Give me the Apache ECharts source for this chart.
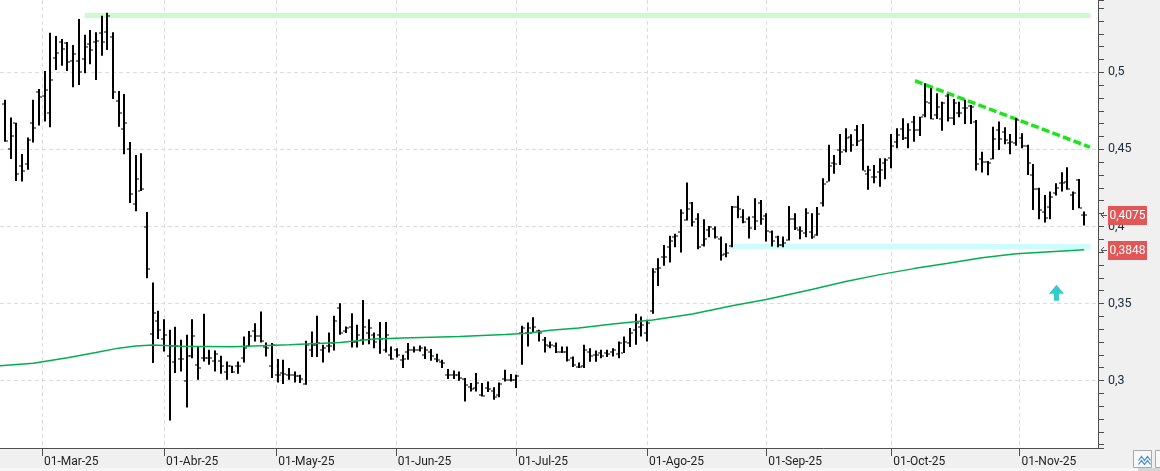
<!DOCTYPE html>
<html>
<head>
<meta charset="utf-8">
<script src="https://cdn.jsdelivr.net/npm/echarts@6.0.0/dist/echarts.min.js"></script>
<style>
  html, body { margin: 0; padding: 0; background: #f0f0f0; }
  #chart { width: 1160px; height: 471px; }
</style>
</head>
<body>
<div id="chart"></div>
<script>
// daily bars, one per trading day (20-Feb-25 .. 18-Nov-25), x = bar index
const open = [
  0.4795, 0.4503, 0.4669, 0.4394, 0.4404, 0.4669, 0.4870, 0.4845, 0.4734, 0.5091,
  0.5199, 0.5188, 0.5071, 0.5071, 0.5084, 0.5182, 0.5195, 0.5253, 0.5260, 0.5227,
  0.4814, 0.4630, 0.4501, 0.4144, 0.4230, 0.3999, 0.3301, 0.3387, 0.3271, 0.3156,
  0.3117, 0.3139, 0.2998, 0.3156, 0.3102, 0.3149, 0.3149, 0.3128, 0.3128, 0.3052,
  0.3091, 0.3091, 0.3145, 0.3225, 0.3318, 0.3290, 0.3217, 0.3095, 0.3037, 0.3048,
  0.3037, 0.3037, 0.3026, 0.2979, 0.3199, 0.3232, 0.3199, 0.3221, 0.3243, 0.3470,
  0.3318, 0.3350, 0.3253, 0.3264, 0.3308, 0.3297, 0.3297, 0.3199, 0.3167, 0.3199,
  0.3134, 0.3182, 0.3199, 0.3199, 0.3167, 0.3188, 0.3139, 0.3123, 0.3037, 0.3037,
  0.3037, 0.3009, 0.2957, 0.2951, 0.2907, 0.2951, 0.2933, 0.2907, 0.3009, 0.3005,
  0.3005, 0.3308, 0.3308, 0.3311, 0.3318, 0.3264, 0.3225, 0.3221, 0.3182, 0.3188,
  0.3145, 0.3087, 0.3091, 0.3188, 0.3167, 0.3178, 0.3178, 0.3188, 0.3173, 0.3178,
  0.3243, 0.3329, 0.3350, 0.3308, 0.3448, 0.3723, 0.3804, 0.3865, 0.3934, 0.3966,
  0.4042, 0.4151, 0.4047, 0.3880, 0.3977, 0.3982, 0.3917, 0.3822, 0.3874, 0.4129,
  0.4060, 0.4047, 0.4064, 0.4151, 0.4068, 0.3966, 0.3930, 0.3880, 0.3913, 0.4047,
  0.3977, 0.3960, 0.3966, 0.3945, 0.4151, 0.4291, 0.4410, 0.4496, 0.4496, 0.4579,
  0.4626, 0.4561, 0.4341, 0.4319, 0.4356, 0.4414, 0.4444, 0.4550, 0.4630, 0.4572,
  0.4678, 0.4626, 0.4723, 0.4799, 0.4723, 0.4695, 0.4846, 0.4702, 0.4734, 0.4767,
  0.4782, 0.4680, 0.4438, 0.4420, 0.4436, 0.4626, 0.4615, 0.4540, 0.4540, 0.4572,
  0.4522, 0.4334, 0.4241, 0.4096, 0.4129, 0.4215, 0.4280, 0.4291, 0.4204, 0.4302,
  0.4075
];
const high = [
  0.4821, 0.4706, 0.4673, 0.4470, 0.4576, 0.4821, 0.4892, 0.5009, 0.5257, 0.5236,
  0.5216, 0.5197, 0.5177, 0.5346, 0.5244, 0.5274, 0.5260, 0.5367, 0.5387, 0.5260,
  0.4879, 0.4859, 0.4548, 0.4464, 0.4475, 0.4094, 0.3636, 0.3452, 0.3398, 0.3329,
  0.3348, 0.3264, 0.3297, 0.3398, 0.3221, 0.3433, 0.3199, 0.3195, 0.3160, 0.3123,
  0.3095, 0.3123, 0.3285, 0.3322, 0.3372, 0.3448, 0.3247, 0.3243, 0.3139, 0.3134,
  0.3081, 0.3058, 0.3037, 0.3258, 0.3318, 0.3420, 0.3232, 0.3311, 0.3420, 0.3502,
  0.3350, 0.3437, 0.3361, 0.3523, 0.3398, 0.3311, 0.3379, 0.3379, 0.3221, 0.3210,
  0.3167, 0.3243, 0.3221, 0.3227, 0.3221, 0.3204, 0.3173, 0.3134, 0.3074, 0.3065,
  0.3058, 0.3016, 0.2983, 0.3048, 0.2983, 0.2994, 0.2957, 0.2987, 0.3069, 0.3042,
  0.3037, 0.3355, 0.3376, 0.3411, 0.3329, 0.3282, 0.3253, 0.3247, 0.3221, 0.3221,
  0.3156, 0.3117, 0.3232, 0.3210, 0.3195, 0.3199, 0.3199, 0.3210, 0.3253, 0.3286,
  0.3340, 0.3433, 0.3415, 0.3394, 0.3729, 0.3794, 0.3880, 0.3939, 0.3952, 0.4112,
  0.4284, 0.4159, 0.4086, 0.4047, 0.4003, 0.3999, 0.3934, 0.3891, 0.4133, 0.4198,
  0.4112, 0.4064, 0.4183, 0.4172, 0.4086, 0.3973, 0.3939, 0.3934, 0.4133, 0.4086,
  0.3999, 0.4118, 0.4086, 0.4125, 0.4313, 0.4529, 0.4464, 0.4600, 0.4637, 0.4598,
  0.4658, 0.4665, 0.4393, 0.4399, 0.4442, 0.4442, 0.4600, 0.4637, 0.4702, 0.4669,
  0.4717, 0.4712, 0.4929, 0.4896, 0.4864, 0.4809, 0.4859, 0.4827, 0.4809, 0.4821,
  0.4788, 0.4691, 0.4485, 0.4425, 0.4647, 0.4680, 0.4643, 0.4600, 0.4702, 0.4605,
  0.4529, 0.4405, 0.4250, 0.4204, 0.4226, 0.4280, 0.4352, 0.4384, 0.4226, 0.4308,
  0.4096
];
const low = [
  0.4550, 0.4438, 0.4295, 0.4291, 0.4367, 0.4544, 0.4654, 0.4680, 0.4643, 0.5015,
  0.5043, 0.5009, 0.4903, 0.4918, 0.4994, 0.5052, 0.4950, 0.5108, 0.5145, 0.4827,
  0.4647, 0.4468, 0.4151, 0.4099, 0.4230, 0.3664, 0.3113, 0.3269, 0.3188, 0.2741,
  0.3048, 0.3058, 0.2825, 0.3145, 0.3005, 0.3123, 0.3102, 0.3058, 0.3044, 0.3005,
  0.3048, 0.3044, 0.3117, 0.3221, 0.3253, 0.3247, 0.3156, 0.3016, 0.2987, 0.2977,
  0.3005, 0.2987, 0.2983, 0.2972, 0.3152, 0.3152, 0.3117, 0.3182, 0.3195, 0.3297,
  0.3308, 0.3214, 0.3214, 0.3232, 0.3236, 0.3210, 0.3173, 0.3182, 0.3134, 0.3149,
  0.3081, 0.3134, 0.3182, 0.3188, 0.3139, 0.3128, 0.3119, 0.3081, 0.3009, 0.3009,
  0.2998, 0.2864, 0.2929, 0.2929, 0.2896, 0.2925, 0.2875, 0.2892, 0.2994, 0.2994,
  0.2951, 0.3102, 0.3221, 0.3308, 0.3253, 0.3182, 0.3210, 0.3178, 0.3178, 0.3123,
  0.3087, 0.3081, 0.3081, 0.3121, 0.3121, 0.3145, 0.3152, 0.3156, 0.3145, 0.3178,
  0.3217, 0.3232, 0.3285, 0.3253, 0.3433, 0.3614, 0.3744, 0.3765, 0.3865, 0.3830,
  0.4038, 0.3999, 0.3852, 0.3869, 0.3930, 0.3921, 0.3778, 0.3800, 0.3865, 0.4053,
  0.4021, 0.3921, 0.3977, 0.4010, 0.3902, 0.3869, 0.3865, 0.3865, 0.3908, 0.3977,
  0.3917, 0.3930, 0.3919, 0.3939, 0.4129, 0.4291, 0.4341, 0.4399, 0.4481, 0.4485,
  0.4522, 0.4362, 0.4237, 0.4280, 0.4258, 0.4306, 0.4378, 0.4507, 0.4561, 0.4507,
  0.4550, 0.4587, 0.4708, 0.4695, 0.4697, 0.4621, 0.4680, 0.4658, 0.4708, 0.4665,
  0.4665, 0.4362, 0.4349, 0.4332, 0.4436, 0.4496, 0.4533, 0.4468, 0.4524, 0.4507,
  0.4334, 0.4107, 0.4047, 0.4025, 0.4047, 0.4200, 0.4226, 0.4237, 0.4107, 0.4118,
  0.4005
];
const close = [
  0.4555, 0.4587, 0.4341, 0.4360, 0.4561, 0.4637, 0.4838, 0.4885, 0.4948, 0.5125,
  0.5149, 0.5067, 0.5119, 0.5002, 0.5162, 0.5143, 0.5203, 0.5195, 0.5365, 0.4870,
  0.4734, 0.4669, 0.4211, 0.4306, 0.4241, 0.3723, 0.3437, 0.3329, 0.3297, 0.3225,
  0.3225, 0.3139, 0.3160, 0.3290, 0.3084, 0.3145, 0.3149, 0.3173, 0.3091, 0.3095,
  0.3052, 0.3091, 0.3210, 0.3290, 0.3290, 0.3258, 0.3210, 0.3232, 0.3037, 0.3044,
  0.3037, 0.3026, 0.3011, 0.3232, 0.3232, 0.3243, 0.3210, 0.3225, 0.3389, 0.3308,
  0.3340, 0.3253, 0.3297, 0.3350, 0.3340, 0.3253, 0.3269, 0.3297, 0.3139, 0.3167,
  0.3139, 0.3199, 0.3199, 0.3210, 0.3199, 0.3156, 0.3130, 0.3113, 0.3037, 0.3037,
  0.3016, 0.2972, 0.2944, 0.2983, 0.2901, 0.2944, 0.2892, 0.2979, 0.3005, 0.3005,
  0.3026, 0.3340, 0.3340, 0.3350, 0.3308, 0.3232, 0.3232, 0.3182, 0.3188, 0.3134,
  0.3102, 0.3087, 0.3195, 0.3156, 0.3167, 0.3160, 0.3173, 0.3199, 0.3243, 0.3253,
  0.3308, 0.3372, 0.3357, 0.3376, 0.3707, 0.3729, 0.3804, 0.3906, 0.3939, 0.4090,
  0.4112, 0.4031, 0.3865, 0.3917, 0.3995, 0.3930, 0.3815, 0.3826, 0.4129, 0.4112,
  0.4031, 0.3988, 0.4038, 0.4047, 0.3971, 0.3902, 0.3880, 0.3891, 0.4047, 0.3988,
  0.3973, 0.4086, 0.3930, 0.4081, 0.4276, 0.4393, 0.4405, 0.4485, 0.4572, 0.4529,
  0.4557, 0.4362, 0.4367, 0.4323, 0.4367, 0.4431, 0.4522, 0.4594, 0.4572, 0.4626,
  0.4626, 0.4708, 0.4809, 0.4695, 0.4777, 0.4803, 0.4702, 0.4799, 0.4738, 0.4767,
  0.4775, 0.4405, 0.4420, 0.4410, 0.4568, 0.4566, 0.4561, 0.4550, 0.4691, 0.4522,
  0.4414, 0.4241, 0.4107, 0.4053, 0.4193, 0.4248, 0.4284, 0.4241, 0.4215, 0.4122,
  0.4075
];

// moving average, read at sample bars
const maIndex = [-1, 5, 11, 16, 20, 23, 26, 31, 40, 50, 59, 65, 70, 80, 88, 92, 96, 101,
  107, 114, 121, 128, 134, 142, 148, 154, 160, 166, 172, 178, 184, 190];
const maValue = [0.3096, 0.3112, 0.3148, 0.3182, 0.3210, 0.3224, 0.3230, 0.3222, 0.3219,
  0.3232, 0.3247, 0.3269, 0.3276, 0.3285, 0.3298, 0.3306, 0.3326, 0.3341, 0.3367, 0.3392,
  0.3432, 0.3485, 0.3525, 0.3590, 0.3642, 0.3687, 0.3726, 0.3761, 0.3797, 0.3822, 0.3835,
  0.3848];

// month ticks (position in bars) and their labels
const monthTicks = [6.5, 28, 47.75, 68.8, 90, 113, 134, 156, 178.6];
const monthLabels = ['01-Mar-25', '01-Abr-25', '01-May-25', '01-Jun-25', '01-Jul-25',
  '01-Ago-25', '01-Sep-25', '01-Oct-25', '01-Nov-25'];

// drawn studies: [fromBar, toBar, price]
const resistanceLevel = [14, 191.1, 0.5371];
const supportLevel = [127.5, 191.1, 0.3872];
const trendLine = [[160.2, 0.4945], [191, 0.4514]];
const arrowMark = [185.1, 0.3569];

const bars = open.map((o, i) => [i, o, close[i], low[i], high[i]]);
const maData = maIndex.map((d, k) => [d, maValue[k]]);
const lastClose = close[close.length - 1];
const lastMa = maValue[maValue.length - 1];

const fmt = v => String(+v.toFixed(4)).replace('.', ',');
const FONT = 'Roboto';

function renderBar(params, api) {
  const i = api.value(0);
  const o = api.coord([i, api.value(1)]);
  const c = api.coord([i, api.value(2)]);
  const l = api.coord([i, api.value(3)]);
  const h = api.coord([i, api.value(4)]);
  const x = Math.round(h[0]);
  const fill = { fill: '#000' };
  return {
    type: 'group',
    children: [
      { type: 'rect', shape: { x: x - 1, y: h[1], width: 2, height: Math.max(l[1] - h[1], 1) }, style: fill },
      { type: 'rect', shape: { x: x - 3, y: Math.round(o[1]) - 0.5, width: 2, height: 1 }, style: fill },
      { type: 'rect', shape: { x: x + 1, y: Math.round(c[1]) - 0.5, width: 2, height: 1 }, style: fill }
    ]
  };
}

const chart = echarts.init(document.getElementById('chart'));
chart.setOption({
  animation: false,
  backgroundColor: '#f0f0f0',
  grid: {
    left: 0, right: 62, top: 0, bottom: 23,
    show: true, backgroundColor: '#ffffff', borderWidth: 0,
    outerBoundsMode: 'none'
  },
  xAxis: {
    type: 'value',
    min: -0.88,
    max: 192.41,
    axisLine: { show: true, onZero: false, lineStyle: { color: '#4d4d4d', width: 1 } },
    axisTick: { show: true, length: 8, customValues: monthTicks, lineStyle: { color: '#4d4d4d' } },
    axisLabel: {
      customValues: monthTicks,
      align: 'left',
      margin: 8,
      padding: [0, 0, 0, 2],
      color: '#222',
      fontSize: 12,
      fontFamily: FONT,
      formatter: v => {
        let best = 0;
        monthTicks.forEach((t, k) => { if (Math.abs(t - v) < Math.abs(monthTicks[best] - v)) best = k; });
        return monthLabels[best];
      }
    },
    splitLine: { show: true, lineStyle: { color: '#dcdcdc', type: [4, 3] } }
  },
  yAxis: {
    type: 'value',
    position: 'right',
    min: 0.2562,
    max: 0.5469,
    splitNumber: 5,
    axisLine: { show: true, onZero: false, lineStyle: { color: '#4d4d4d', width: 1 } },
    axisTick: { show: true, length: 6, lineStyle: { color: '#4d4d4d' } },
    minorTick: { show: true, splitNumber: 6, length: 6, lineStyle: { color: '#4d4d4d' } },
    axisLabel: {
      margin: 10,
      color: '#1e2a3a',
      fontSize: 12.5,
      fontFamily: FONT,
      showMinLabel: false,
      showMaxLabel: false,
      formatter: v => fmt(v)
    },
    splitLine: { show: true, showMinLine: false, showMaxLine: false,
                 lineStyle: { color: '#dcdcdc', type: [4, 3] } }
  },
  series: [
    {
      name: 'bars',
      type: 'custom',
      z: 4,
      renderItem: renderBar,
      encode: { x: 0, y: [1, 2, 3, 4] },
      data: bars
    },
    {
      name: 'ma',
      type: 'line',
      z: 6,
      data: maData,
      showSymbol: false,
      symbol: 'none',
      lineStyle: { color: '#00b050', width: 1.5 },
      markLine: {
        z: 3,
        silent: true,
        symbol: 'none',
        label: { show: false },
        data: [
          [
            { coord: [resistanceLevel[0], resistanceLevel[2]], lineStyle: { color: '#ccfccc', width: 5, type: 'solid' } },
            { coord: [resistanceLevel[1], resistanceLevel[2]] }
          ],
          [
            { coord: [supportLevel[0], supportLevel[2]], lineStyle: { color: '#ccfcfc', width: 5, type: 'solid' } },
            { coord: [supportLevel[1], supportLevel[2]] }
          ],
          [
            { coord: trendLine[0], lineStyle: { color: '#1be61b', width: 3.5, type: [8, 3.3] } },
            { coord: trendLine[1] }
          ]
        ]
      },
      markPoint: {
        silent: true,
        label: { show: false },
        data: [{
          coord: arrowMark,
          symbol: 'path://M7.5,0 L15,9 L10,9 L10,16 L5,16 L5,9 L0,9 Z',
          symbolSize: [15, 16],
          itemStyle: { color: '#33cccc' }
        }]
      }
    }
  ]
});

// last-value tags on the price axis, placed through the y axis scale
function priceTag(value) {
  const y = Math.round(chart.convertToPixel({ yAxisIndex: 0 }, value));
  return [
    { type: 'polyline', z: 10, shape: { points: [[1104, y - 3], [1101, y], [1104, y + 3]] },
      style: { stroke: '#555', lineWidth: 1, fill: null } },
    { type: 'line', z: 10, shape: { x1: 1101, y1: y + 0.5, x2: 1107, y2: y + 0.5 },
      style: { stroke: '#555', lineWidth: 1 } },
    { type: 'rect', z: 10, shape: { x: 1108, y: y - 9, width: 39, height: 19 },
      style: { fill: '#e35656' } },
    { type: 'text', z: 11, x: 1127.5, y: y + 0.5,
      style: { text: fmt(value), fill: '#fff', font: '12px Roboto', align: 'center', verticalAlign: 'middle' } }
  ];
}

chart.setOption({
  graphic: [
    ...priceTag(lastClose),
    ...priceTag(lastMa),
    { type: 'rect', left: 1133, top: 450, shape: { width: 18, height: 17 },
      style: { fill: '#f8f8f8', stroke: '#a8a8a8', lineWidth: 1 } },
    { type: 'polyline', left: 1136, top: 454, shape: { points: [[0, 5], [3, 1], [6, 5], [9, 1], [12, 5]] },
      style: { stroke: '#3c8ed8', lineWidth: 1.2, fill: null } },
    { type: 'polyline', left: 1136, top: 458, shape: { points: [[0, 5], [3, 1], [6, 5], [9, 1], [12, 5]] },
      style: { stroke: '#3c8ed8', lineWidth: 1.2, fill: null } },
    { type: 'rect', left: 1155, top: 450, shape: { width: 10, height: 17 },
      style: { fill: '#f8f8f8', stroke: '#a8a8a8', lineWidth: 1 } },
    { type: 'rect', left: 0, top: 468, shape: { width: 1160, height: 3 },
      style: { fill: '#f7f7f7' } },
    { type: 'rect', left: 1138, top: 468, shape: { width: 22, height: 3 },
      style: { fill: '#d4d4d4' } }
  ]
});
</script>
</body>
</html>
